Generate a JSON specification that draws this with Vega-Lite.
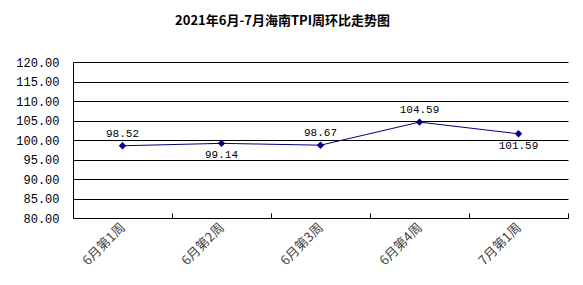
{
  "$schema": "https://vega.github.io/schema/vega-lite/v6.json",
  "width": 495,
  "height": 156,
  "autosize": {"type": "none"},
  "padding": {"left": 73, "top": 62, "right": 15, "bottom": 67},
  "background": "white",
  "title": {
    "text": "2021年6月-7月海南TPI周环比走势图",
    "font": "Noto Sans CJK SC",
    "fontSize": 13,
    "fontWeight": "bold",
    "color": "black",
    "anchor": "middle",
    "dx": -38,
    "offset": 28
  },
  "data": {
    "values": [
      {"week": "6月第1周", "value": 98.52},
      {"week": "6月第2周", "value": 99.14},
      {"week": "6月第3周", "value": 98.67},
      {"week": "6月第4周", "value": 104.59},
      {"week": "7月第1周", "value": 101.59}
    ]
  },
  "encoding": {
    "x": {
      "field": "week",
      "type": "nominal",
      "sort": null,
      "scale": {"paddingInner": 0, "paddingOuter": 0},
      "axis": {
        "title": null,
        "tickBand": "extent",
        "labelAngle": -45,
        "labelAlign": "right",
        "labelBaseline": "middle",
        "labelFont": "Noto Sans CJK SC",
        "labelFontSize": 13,
        "labelColor": "#444444",
        "labelPadding": 12,
        "domainColor": "black",
        "tickColor": "black",
        "tickSize": -5,
        "grid": false
      }
    },
    "y": {
      "field": "value",
      "type": "quantitative",
      "scale": {"domain": [80, 120], "nice": false, "zero": false},
      "axis": {
        "title": null,
        "values": [80, 85, 90, 95, 100, 105, 110, 115, 120],
        "format": ".2f",
        "labelFont": "Liberation Mono",
        "labelFontSize": 12,
        "labelColor": "black",
        "labelPadding": 14,
        "ticks": false,
        "domainColor": "black",
        "grid": true,
        "gridColor": "black",
        "gridOpacity": 1,
        "gridWidth": 1
      }
    }
  },
  "layer": [
    {"mark": {"type": "line", "color": "#000080", "strokeWidth": 1}},
    {"mark": {"type": "point", "shape": "diamond", "filled": true, "color": "#000080", "size": 55, "opacity": 1}},
    {
      "transform": [{"filter": "indexof(['6月第1周','6月第3周','6月第4周'], datum.week) >= 0"}],
      "mark": {"type": "text", "dy": -12, "font": "Liberation Mono", "fontSize": 11, "color": "black"},
      "encoding": {"text": {"field": "value", "type": "quantitative", "format": ".2f"}}
    },
    {
      "transform": [{"filter": "indexof(['6月第2周','7月第1周'], datum.week) >= 0"}],
      "mark": {"type": "text", "dy": 12, "font": "Liberation Mono", "fontSize": 11, "color": "black"},
      "encoding": {"text": {"field": "value", "type": "quantitative", "format": ".2f"}}
    }
  ],
  "config": {"view": {"stroke": null}}
}
